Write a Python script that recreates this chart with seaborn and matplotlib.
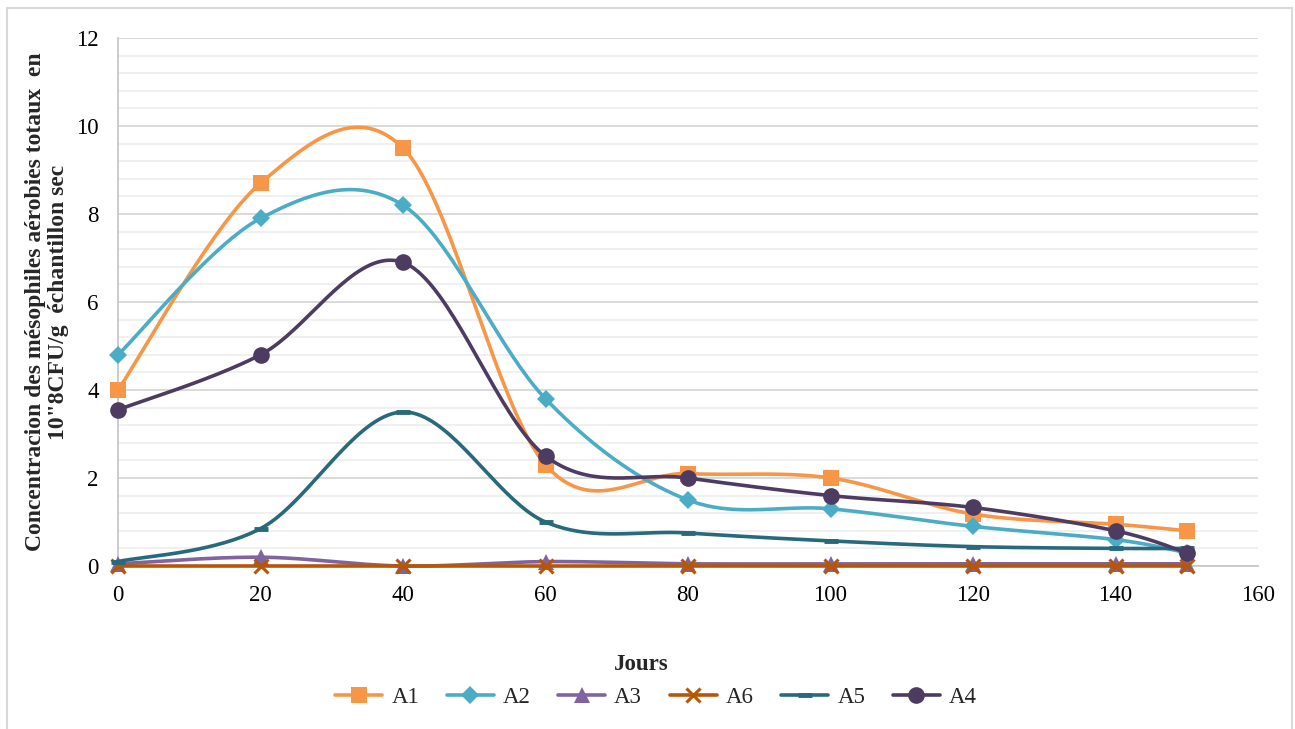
import numpy as np
import pandas as pd
import matplotlib
matplotlib.use("Agg")
import matplotlib.pyplot as plt
from matplotlib.lines import Line2D
from matplotlib.patches import Rectangle
from matplotlib.ticker import MultipleLocator
import seaborn as sns

# Sampling days and mesophile counts per sample
jours = [0, 20, 40, 60, 80, 100, 120, 140, 150]
a1 = [4.0, 8.7, 9.5, 2.3, 2.1, 2.0, 1.18, 0.95, 0.8]
a2 = [4.8, 7.9, 8.2, 3.8, 1.5, 1.3, 0.9, 0.6, 0.3]
a3 = [0.05, 0.2, 0.0, 0.1, 0.05, 0.05, 0.05, 0.05, 0.05]
a6 = [0.0, 0.0, 0.0, 0.0, 0.0, 0.0, 0.0, 0.0, 0.0]
a5 = [0.1, 0.85, 3.5, 1.0, 0.75, 0.57, 0.44, 0.4, 0.4]
a4 = [3.55, 4.8, 6.9, 2.5, 2.0, 1.6, 1.33, 0.8, 0.3]

series_names = ["A1", "A2", "A3", "A6", "A5", "A4"]
series_values = [a1, a2, a3, a6, a5, a4]
x_ticks = [0, 20, 40, 60, 80, 100, 120, 140, 160]
y_ticks = [0, 2, 4, 6, 8, 10, 12]

colors = {"A1": "#F79646", "A2": "#4BACC6", "A3": "#8064A2",
          "A6": "#B65708", "A5": "#276A7C", "A4": "#4D3B62"}
markers = {"A1": "s", "A2": "D", "A3": "^", "A6": "x", "A5": "_", "A4": "o"}
msizes = {"A1": 12, "A2": 9, "A3": 11, "A6": 10, "A5": 10, "A4": 12}


def smooth(xs, ys, n=40):
    """Cubic Bezier smoothing through every point (Catmull-Rom style)."""
    p = np.column_stack([xs, ys]).astype(float)
    ext = np.vstack([p[0], p, p[-1]])
    out = []
    t = np.linspace(0, 1, n)[:, None]
    for i in range(len(p) - 1):
        p0, p1, p2, p3 = ext[i], ext[i + 1], ext[i + 2], ext[i + 3]
        c1 = p1 + (p2 - p0) / 6.0
        c2 = p2 - (p3 - p1) / 6.0
        seg = ((1 - t) ** 3) * p1 + 3 * ((1 - t) ** 2) * t * c1 \
            + 3 * (1 - t) * t ** 2 * c2 + t ** 3 * p2
        out.append(seg if i == 0 else seg[1:])
    seg = np.vstack(out)
    return seg[:, 0], seg[:, 1]


def marker_width(mk):
    if mk == "x":
        return 2.2
    if mk == "_":
        return 3.5
    return 0


sns.set_theme(style="white")
plt.rcParams["font.family"] = ["Liberation Serif", "DejaVu Serif"]

fig = plt.figure(figsize=(12.95, 7.29), dpi=100)
ax = fig.add_axes([118 / 1295, 1 - 566 / 729, 1140 / 1295, 528 / 729])

for k, (name, vals) in enumerate(zip(series_names, series_values)):
    sx, sy = smooth(jours, vals)
    curve = pd.DataFrame({"x": sx, "y": sy})
    sns.lineplot(data=curve, x="x", y="y", ax=ax, color=colors[name],
                 linewidth=2.6, sort=False, estimator=None,
                 zorder=3 + k * 0.1, clip_on=False)
    mk = markers[name]
    ax.plot(jours, vals, linestyle="none", marker=mk, ms=msizes[name],
            mew=marker_width(mk), color=colors[name], zorder=3.05 + k * 0.1,
            clip_on=False)

ax.set_xlim(0, 160)
ax.set_ylim(0, 12)
ax.set_xticks(x_ticks)
ax.set_yticks(y_ticks)
ax.yaxis.set_minor_locator(MultipleLocator(0.4))
ax.grid(which="major", axis="y", color="#D9D9D9", linewidth=1.4, zorder=0)
ax.grid(which="minor", axis="y", color="#F0F0F0", linewidth=1.4, zorder=0)
ax.grid(which="major", axis="x", visible=False)
ax.set_axisbelow(True)
for s in ("top", "right"):
    ax.spines[s].set_visible(False)
for s in ("left", "bottom"):
    ax.spines[s].set_color("#C8C8C8")
    ax.spines[s].set_linewidth(1.3)
    ax.spines[s].set_zorder(1)
ax.tick_params(axis="both", which="both", length=0, labelsize=16.5,
               colors="#000000")
ax.tick_params(axis="y", pad=14)
ax.tick_params(axis="x", pad=14)
ax.set_xlabel("")
ax.set_ylabel("")

fig.text(47 / 1295, 1 - 302 / 729,
         "Concentracion des mésophiles aérobies totaux  en\n"
         "10\"8CFU/g  échantillon sec",
         rotation=90, ha="center", va="center", multialignment="center",
         fontsize=17, fontweight="bold", linespacing=1.1)
fig.text(641 / 1295, 1 - 665 / 729, "Jours", ha="center", va="center",
         fontsize=16.5, fontweight="bold")

handles = []
for name in series_names:
    mk = markers[name]
    handles.append(Line2D([], [], color=colors[name], linewidth=2.6,
                          marker=mk, ms=msizes[name], mew=marker_width(mk)))
fig.legend(handles, series_names, loc="center", ncol=6,
           bbox_to_anchor=(656 / 1295, 1 - 697 / 729), frameon=False,
           fontsize=16.5, handlelength=2.05, columnspacing=1.2,
           handletextpad=0.4)

fig.patches.append(Rectangle((7 / 1295, -0.05), 1285 / 1295, 1.05 - 8 / 729,
                             transform=fig.transFigure, fill=False,
                             edgecolor="#D9D9D9", linewidth=1.5))

fig.savefig("out.png", dpi=100)
